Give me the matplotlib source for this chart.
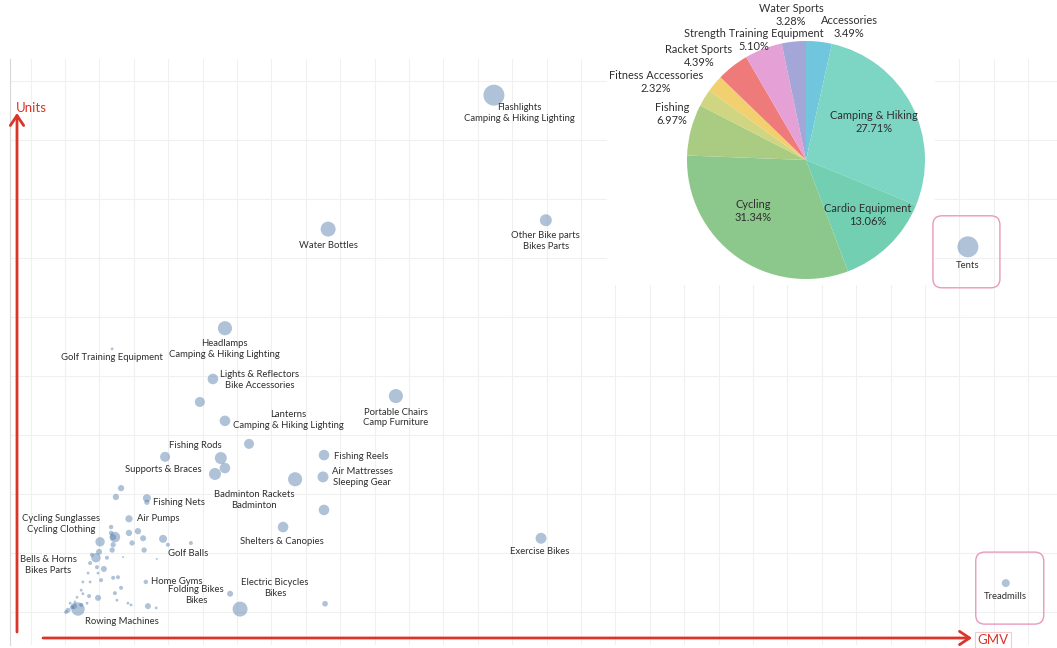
import matplotlib
matplotlib.use('Agg')
import matplotlib.pyplot as plt
from matplotlib.patches import FancyBboxPatch, Rectangle, FancyArrowPatch
from matplotlib.transforms import IdentityTransform

plt.rcParams['font.family'] = ['Lato', 'DejaVu Sans']

# ---------------- scatter data ----------------
product = ['Flashlights', 'Water Bottles', 'Other Bike parts', 'Tents', 'Treadmills',
           'Exercise Bikes', 'Headlamps', 'Golf Training Equipment', 'Lights & Reflectors',
           'Lanterns', 'Portable Chairs', 'Fishing Rods', 'Supports & Braces', 'Fishing Reels',
           'Air Mattresses', 'Badminton Rackets', 'Shelters & Canopies', 'Fishing Nets',
           'Air Pumps', 'Cycling Sunglasses', 'Golf Balls', 'Bells & Horns', 'Home Gyms',
           'Folding Bikes', 'Electric Bicycles', 'Rowing Machines'] + [''] * 57
subcat = ['Camping & Hiking Lighting', '', 'Bikes Parts', '', '', '',
          'Camping & Hiking Lighting', '', 'Bike Accessories', 'Camping & Hiking Lighting',
          'Camp Furniture', '', '', '', 'Sleeping Gear', 'Badminton', '', '', '',
          'Cycling Clothing', '', 'Bikes Parts', '', 'Bikes', 'Bikes', ''] + [''] * 57
gmv = [124.7, 76.5, 139.8, 262.5, 273.5, 138.4, 46.5, 13.7, 43.0, 46.5, 96.2, 45.3, 43.6,
       75.3, 75.0, 66.9, 63.4, 23.8, 18.6, 14.5, 28.5, 9.0, 23.5, 48.0, 50.9, 3.8,
       39.2, 53.5, 29.1, 46.5, 75.3, 23.8, 16.3, 14.8, 36.6, 75.6, 13.4, 18.6, 21.2, 10.2,
       19.5, 22.7, 29.9, 14.0, 13.7, 23.0, 9.9, 7.8, 12.2, 7.3, 9.3, 11.3, 9.6, 14.0, 15.4,
       10.5, 6.7, 5.2, 7.3, 16.3, 14.5, 9.6, 7.0, 15.1, 18.3, 19.2, 24.1, 26.5, 26.7, 16.9,
       4.7, 3.5, 5.2, 2.9, 2.0, 0.9, 0.3, 2.6, 4.7, 6.4, 1.5, 14.0, 13.4]
units = [876, 649, 664, 619, 49, 125, 481, 446, 395, 324, 366, 261, 234, 266, 229, 225,
         144, 186, 158, 127, 124, 92, 51, 31, 5, 5,
         356, 285, 263, 244, 173, 193, 210, 195, 117, 14, 144, 134, 137, 119, 117, 125, 114,
         114, 105, 105, 102, 97, 92, 83, 76, 73, 66, 58, 59, 54, 66, 51, 51, 41, 32, 24, 27,
         20, 15, 12, 10, 7, 90, 93, 37, 25, 31, 17, 8, 3, 0, 10, 12, 15, 15, 127, 134]
orders = [110, 56, 36, 110, 16, 30, 50, 2, 28, 28, 50, 36, 36, 28, 30, 50, 28, 7, 13, 28,
          16, 22, 5, 9, 56, 45,
          25, 25, 25, 28, 28, 16, 10, 10, 4, 8, 5, 10, 10, 22, 7, 9, 4, 7, 7, 7, 9, 4, 4, 4,
          4, 9, 2, 4, 4, 4, 2, 2, 2, 4, 4, 9, 4, 2, 2, 2, 9, 2, 1, 1, 2, 2, 2, 2, 4, 6, 4, 9,
          4, 2, 2, 9, 5]
highlighted = ['Tents', 'Treadmills']

# ---------------- pie data ----------------
pie_cats = ['Accessories', 'Camping & Hiking', 'Cardio Equipment', 'Cycling', 'Fishing',
            'Golf', 'Fitness Accessories', 'Racket Sports', 'Strength Training Equipment',
            'Water Sports']
pie_share = [3.49, 27.71, 13.06, 31.34, 6.97, 2.34, 2.32, 4.39, 5.10, 3.28]
pie_colors = ['#70c6dc', '#7dd5c4', '#72cfb2', '#8cc78c', '#a9cc82', '#cfd580', '#f3d06f',
              '#ef7a7a', '#e5a0d5', '#a4a6d8']
pie_label_shown = [True, True, True, True, True, False, True, True, True, True]

# ---------------- layout ----------------
W, H = 1057, 648
fig = plt.figure(figsize=(W / 100, H / 100), dpi=100)
ax = fig.add_axes([10 / W, (H - 645) / H, (W - 10) / W, (645 - 59) / H])
ax.set_xlim(-15.99, 288.4)
ax.set_ylim(-55.9, 937.3)
ax.set_xticks(range(-10, 289, 10))
ax.set_yticks(range(0, 901, 100))
ax.grid(True, color='#f0f0f0', linewidth=0.75)
ax.set_axisbelow(True)
ax.tick_params(length=0, labelbottom=False, labelleft=False)
for side in ['top', 'right', 'bottom']:
    ax.spines[side].set_visible(False)
ax.spines['left'].set_color('#d8d8d8')
ax.spines['left'].set_linewidth(0.8)

ax.scatter(gmv, units, s=[o * 2.07 for o in orders], color='#4e79a7', alpha=0.45,
           linewidths=0, zorder=3)

label_layout = {
    'Flashlights': (25, 18, 'center'), 'Water Bottles': (0, 16, 'center'),
    'Other Bike parts': (0, 20.5, 'center'), 'Tents': (0, 19, 'center'),
    'Treadmills': (0, 13, 'center'), 'Exercise Bikes': (-1, 13, 'center'),
    'Headlamps': (-1, 21, 'center'), 'Golf Training Equipment': (0, 9, 'center'),
    'Lights & Reflectors': (47, 1, 'center'), 'Lanterns': (63, -1, 'center'),
    'Portable Chairs': (0, 21.5, 'center'), 'Fishing Rods': (-26, -13, 'center'),
    'Supports & Braces': (-52, -4, 'center'), 'Fishing Reels': (10, 1, 'left'),
    'Air Mattresses': (39, 0, 'center'), 'Badminton Rackets': (-41, 20.5, 'center'),
    'Shelters & Canopies': (-1, 14, 'center'), 'Fishing Nets': (6, 0, 'left'),
    'Air Pumps': (8, 0, 'left'), 'Cycling Sunglasses': (-54, -13, 'center'),
    'Golf Balls': (25, 15, 'center'), 'Bells & Horns': (-48, 7.5, 'center'),
    'Home Gyms': (5, 0, 'left'), 'Folding Bikes': (-34, 1.5, 'center'),
    'Electric Bicycles': (35, -21, 'center'), 'Rowing Machines': (44, 12, 'center'),
}
txt_color = '#2e2e2e'
for p, sc, x, y in zip(product, subcat, gmv, units):
    if not p:
        continue
    dx, dy, ha = label_layout[p]
    text = p + ('\n' + sc if sc else '')
    ax.annotate(text, (x, y), xytext=(dx, -dy), textcoords='offset pixels',
                ha=ha, va='center', fontsize=6.8, color=txt_color, linespacing=1.25,
                multialignment='center', zorder=4)

# white panel behind pie
fig.add_artist(Rectangle((607 / W, (H - 285) / H), (935 - 607) / W, 285 / H,
                         transform=fig.transFigure, facecolor='white', edgecolor='none',
                         zorder=1))

# pie inset
cx, cy, R = 806, 160, 119
half = 200
pax = fig.add_axes([(cx - half) / W, (H - cy - half) / H, 2 * half / W, 2 * half / H],
                   zorder=2)
pax.pie(pie_share, colors=pie_colors, startangle=90, counterclock=False, radius=1,
        wedgeprops=dict(linewidth=0))
lim = half / R
pax.set_xlim(-lim, lim)
pax.set_ylim(-lim, lim)
pax.set_aspect('equal')
pax.axis('off')
# first-line centre of each pie label (pixels from top-left)
pie_label_pos = {
    'Water Sports': (791, 8), 'Accessories': (849, 20),
    'Strength Training Equipment': (753.5, 33), 'Racket Sports': (699, 49),
    'Fitness Accessories': (656, 75), 'Fishing': (672, 107),
    'Camping & Hiking': (874, 115), 'Cardio Equipment': (868, 208), 'Cycling': (753, 204),
}
for cat, share, shown in zip(pie_cats, pie_share, pie_label_shown):
    if not shown:
        continue
    px, py = pie_label_pos[cat]
    for k, line in enumerate([cat, f'{share:.2f}%']):
        pax.text((px - cx) / R, (cy - py - 13.5 * k) / R, line, ha='center',
                 va='center', fontsize=7.9, color=txt_color, clip_on=False)

# highlight boxes (display pixels)
fig.canvas.draw()
box_geom = {'Tents': (-35, -41, 67, 72), 'Treadmills': (-30, -41, 68, 72)}
for p, x, y in zip(product, gmv, units):
    if p in highlighted:
        X, Y = ax.transData.transform((x, y))
        ox, oy, bw, bh = box_geom[p]
        fig.add_artist(FancyBboxPatch((X + ox, Y + oy), bw, bh,
                                      boxstyle='round,pad=0,rounding_size=9',
                                      transform=IdentityTransform(), fill=False,
                                      edgecolor='#e89abd', linewidth=1.0, zorder=5))

# axis arrows
red = '#d9352b'
fig.add_artist(FancyArrowPatch((17, H - 632), (17, H - 113), transform=IdentityTransform(),
                               arrowstyle='->,head_length=0.45,head_width=0.3',
                               mutation_scale=16, color=red, linewidth=2.0,
                               shrinkA=0, shrinkB=0, zorder=6))
fig.add_artist(FancyArrowPatch((43, H - 638), (972, H - 638), transform=IdentityTransform(),
                               arrowstyle='->,head_length=0.45,head_width=0.3',
                               mutation_scale=16, color=red, linewidth=2.0,
                               shrinkA=0, shrinkB=0, zorder=6))
fig.text(16 / W, (H - 108) / H, 'Units', color=red, fontsize=9.5, ha='left', va='center')
fig.text(992.5 / W, (H - 640) / H, 'GMV', color=red, fontsize=9.5, ha='center',
         va='center')
fig.add_artist(Rectangle((975, H - 648), 36, 16, transform=IdentityTransform(),
                         fill=False, edgecolor='#f3c9d3', linewidth=0.8, zorder=5))

fig.savefig('out.png', dpi=100)
